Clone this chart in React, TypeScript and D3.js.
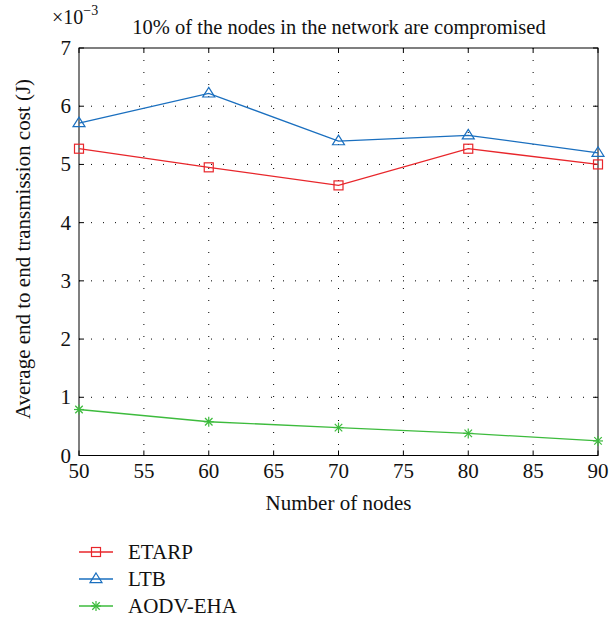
import React from "react";
import * as d3 from "d3";

const xValues = [50, 60, 70, 80, 90];
const etarp = [5.27, 4.95, 4.64, 5.27, 5.0];
const ltb = [5.71, 6.22, 5.4, 5.5, 5.2];
const aodv = [0.79, 0.58, 0.48, 0.38, 0.25];
const xTicks = [50, 55, 60, 65, 70, 75, 80, 85, 90];
const yTicks = [0, 1, 2, 3, 4, 5, 6, 7];
const seriesNames = ["ETARP", "LTB", "AODV-EHA"];
const seriesColors = ["#e8262b", "#1a6fbf", "#3dbb3d"];
const title = "10% of the nodes in the network are compromised";
const xLabel = "Number of nodes";
const yLabel = "Average end to end transmission cost (J)";

const W = 613, H = 619;
const left = 79, right = 598, top = 48, bottom = 455.5;
const font = "'Liberation Serif', 'Times New Roman', serif";

function Marker({ kind, x, y, color }: { kind: number; x: number; y: number; color: string }) {
  if (kind === 0) {
    return <rect x={x - 4.5} y={y - 4.5} width={9} height={9} fill="none" stroke={color} strokeWidth={1.2} />;
  }
  if (kind === 1) {
    const s = 6;
    return <path d={`M${x},${y - s} L${x + s},${y + s * 0.6} L${x - s},${y + s * 0.6} Z`} fill="none" stroke={color} strokeWidth={1.2} />;
  }
  const s = 5;
  return (
    <g stroke={color} strokeWidth={1.2}>
      <line x1={x - s} y1={y} x2={x + s} y2={y} />
      <line x1={x} y1={y - s} x2={x} y2={y + s} />
      <line x1={x - s * 0.75} y1={y - s * 0.75} x2={x + s * 0.75} y2={y + s * 0.75} />
      <line x1={x - s * 0.75} y1={y + s * 0.75} x2={x + s * 0.75} y2={y - s * 0.75} />
    </g>
  );
}

export default function App() {
  const x = d3.scaleLinear().domain([50, 90]).range([left, right]);
  const y = d3.scaleLinear().domain([0, 7]).range([bottom, top]);
  const allSeries = [etarp, ltb, aodv];
  const line = d3.line<number>().x((_, i) => x(xValues[i])).y((d) => y(d));
  const legendY = [552, 579, 606];

  return (
    <svg width={W} height={H} style={{ position: "absolute", left: 0, top: 0, background: "#fff" }} fontFamily={font}>
      <rect x={0} y={0} width={W} height={H} fill="#fff" />
      {xTicks.slice(1, -1).map((t) => (
        <line key={"gx" + t} x1={x(t)} x2={x(t)} y1={top} y2={bottom} stroke="#000" strokeWidth={1} strokeDasharray="1,11" />
      ))}
      {yTicks.slice(1, -1).map((t) => (
        <line key={"gy" + t} x1={left} x2={right} y1={y(t)} y2={y(t)} stroke="#000" strokeWidth={1} strokeDasharray="1,11" />
      ))}
      {xTicks.map((t) => (
        <g key={"tx" + t}>
          <line x1={x(t)} x2={x(t)} y1={bottom} y2={bottom - 5} stroke="#000" />
          <line x1={x(t)} x2={x(t)} y1={top} y2={top + 5} stroke="#000" />
          <text x={x(t)} y={bottom + 22} textAnchor="middle" fontSize={21} fill="#111">{t}</text>
        </g>
      ))}
      {yTicks.map((t) => (
        <g key={"ty" + t}>
          <line x1={left} x2={left + 5} y1={y(t)} y2={y(t)} stroke="#000" />
          <line x1={right} x2={right - 5} y1={y(t)} y2={y(t)} stroke="#000" />
          <text x={left - 8} y={y(t) + 7} textAnchor="end" fontSize={21} fill="#111">{t}</text>
        </g>
      ))}
      <rect x={left} y={top} width={right - left} height={bottom - top} fill="none" stroke="#000" strokeWidth={1} />
      {allSeries.map((s, k) => (
        <g key={"s" + k}>
          <path d={line(s) || ""} fill="none" stroke={seriesColors[k]} strokeWidth={1.3} />
          {s.map((v, i) => (
            <Marker key={i} kind={k} x={x(xValues[i])} y={y(v)} color={seriesColors[k]} />
          ))}
        </g>
      ))}
      <text x={339} y={34} textAnchor="middle" fontSize={20.5} fill="#111">{title}</text>
      <text x={52} y={24} fontSize={20} fill="#111">×10<tspan dy={-9} fontSize={14}>−3</tspan></text>
      <text x={(left + right) / 2} y={510} textAnchor="middle" fontSize={21} fill="#111">{xLabel}</text>
      <text transform={`translate(30,${249}) rotate(-90)`} textAnchor="middle" fontSize={21} fill="#111">{yLabel}</text>
      {seriesNames.map((n, k) => (
        <g key={"l" + k}>
          <line x1={79} x2={113} y1={legendY[k]} y2={legendY[k]} stroke={seriesColors[k]} strokeWidth={1.3} />
          <Marker kind={k} x={96} y={legendY[k]} color={seriesColors[k]} />
          <text x={128} y={legendY[k] + 7} fontSize={21} fill="#111">{n}</text>
        </g>
      ))}
    </svg>
  );
}
